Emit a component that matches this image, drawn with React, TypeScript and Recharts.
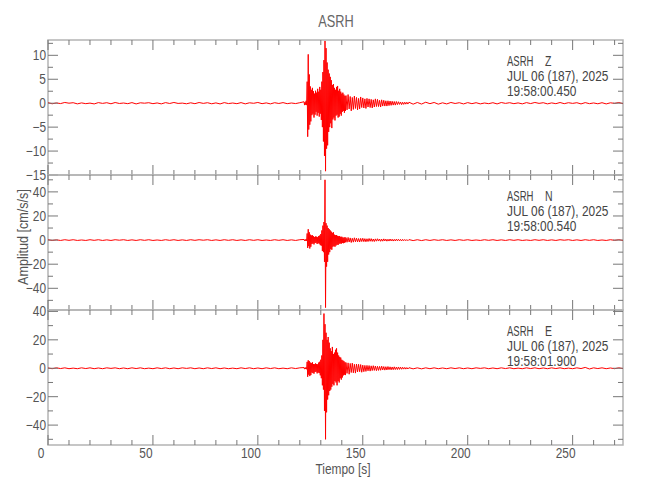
import { LineChart, Line, XAxis, YAxis, ReferenceArea } from "recharts";

// sample start (s) and step (s) of each stretch of the records
const segStart = [0, 122, 142, 172];
const segStep = [2, 0.25, 0.5, 2];

// ASRH Z
const zPre = [
  0.1, -0.12, 0.05, -0.08, 0.15, 0.0, 0.1, -0.14, 0.06, -0.1,
  0.02, -0.15, 0.12, -0.04, 0.1, -0.12, 0.14, -0.06, 0.04, -0.1,
  0.12, -0.15, 0.08, 0.0, 0.1, -0.1, 0.05, -0.14, 0.12, -0.06,
  0.15, -0.05, 0.02, -0.12, 0.08, -0.1, 0.14, -0.04, 0.1, -0.12,
  0.06, -0.15, 0.12, -0.08, 0.04, -0.1, 0.12, -0.14, 0.08, -0.02,
  0.15, -0.1, 0.06, -0.14, 0.1, -0.06, 0.12, -0.1, 0.04, -0.08,
  0.1,
];
const zBurst = [
  0.3, -0.4, 0.2, -0.3, 0.5, -0.4, 4.5, -7.0, 10.2, -5.5,
  6.0, -4.5, 3.5, -3.8, 2.8, -2.5, 3.2, -2.2, 2.5, -3.0,
  2.0, -2.4, 2.6, -1.8, 2.2, -2.6, 3.0, -2.0, 2.4, -2.8,
  3.4, -2.2, 2.8, -3.5, 4.5, -5.0, 6.5, -8.0, 9.0, -11.0,
  13.0, -14.2, 11.5, -9.5, 8.5, -8.8, 7.0, -6.0, 6.2, -5.0,
  5.5, -4.2, 4.8, -5.2, 3.8, -3.4, 4.0, -3.0, 3.2, -3.6,
  2.8, -2.6, 3.4, -2.4, 3.6, -3.0, 2.6, -2.8, 3.0, -2.2,
  2.4, -2.6, 2.0, -1.8, 2.2, -1.6, 1.8, -2.0, 1.5, -1.6,
];
const zCoda = [
  1.6, -1.4, 1.8, -1.2, 1.4, -1.6, 1.2, -1.3, 1.5, -1.1,
  1.2, -1.4, 1.0, -1.2, 1.3, -0.9, 1.1, -1.0, 0.9, -1.1,
  1.0, -0.8, 0.9, -0.9, 0.8, -1.0, 0.7, -0.8, 0.9, -0.7,
  0.8, -0.7, 0.6, -0.8, 0.7, -0.6, 0.6, -0.6, 0.5, -0.6,
  0.5, -0.5, 0.45, -0.45, 0.4, -0.4, 0.35, -0.4, 0.35, -0.3,
  0.3, -0.25, 0.25, -0.3, 0.2, -0.25, 0.2, -0.2, 0.2, -0.18,
];
const zTail = [
  0.2, -0.2, 0.15, -0.18, 0.2, -0.1, 0.15, -0.2, 0.08, -0.15,
  0.15, -0.06, 0.1, -0.15, 0.12, -0.1, 0.1, -0.14, 0.04, -0.1,
  0.1, -0.15, 0.14, -0.04, 0.1, -0.1, 0.06, -0.14, 0.12, -0.08,
  0.15, -0.04, 0.1, -0.14, 0.06, -0.1, 0.14, -0.1, 0.1, -0.04,
  0.1, -0.15, 0.12, -0.1, 0.05, -0.12, 0.1, -0.15, 0.08, -0.04,
  0.14, -0.1,
];

// ASRH N
const nPre = [
  0.3, -0.3, 0.2, -0.3, 0.3, -0.2, 0.3, -0.3, 0.1, -0.3,
  0.3, -0.2, 0.3, -0.3, 0.2, -0.3, 0.3, -0.1, 0.3, -0.3,
  0.2, -0.3, 0.3, -0.2, 0.3, -0.3, 0.1, -0.3, 0.3, -0.2,
  0.3, -0.3, 0.2, -0.3, 0.3, -0.2, 0.3, -0.1, 0.3, -0.3,
  0.2, -0.3, 0.3, -0.2, 0.3, -0.3, 0.2, -0.3, 0.3, -0.2,
  0.3, -0.3, 0.1, -0.3, 0.3, -0.2, 0.3, -0.3, 0.2, -0.3,
  0.3,
];
const nBurst = [
  0.5, -0.6, 0.4, -0.5, 0.7, -0.6, 5.5, -6.5, 9.0, -5.0,
  6.5, -7.0, 4.5, -5.5, 3.8, -3.2, 4.0, -2.8, 3.2, -3.6,
  2.6, -2.4, 3.0, -2.2, 2.8, -3.2, 2.4, -2.6, 3.4, -3.0,
  3.8, -4.2, 5.0, -4.6, 8.0, -9.0, 12.0, -10.0, 15.0, -18.0,
  50.0, -56.0, 14.0, -22.0, 12.0, -18.0, 10.0, -12.0, 9.0, -10.0,
  8.0, -7.5, 7.0, -8.0, 6.0, -5.5, 6.5, -5.0, 4.5, -5.5,
  4.0, -4.5, 4.2, -3.8, 3.5, -4.0, 3.2, -3.0, 3.4, -2.8,
  2.6, -3.0, 2.8, -2.4, 2.2, -2.6, 2.0, -2.2, 2.4, -1.8,
];
const nCoda = [
  2.0, -1.8, 2.2, -1.6, 1.8, -2.0, 1.5, -1.7, 1.9, -1.4,
  1.6, -1.5, 1.3, -1.6, 1.4, -1.2, 1.5, -1.3, 1.2, -1.4,
  1.1, -1.2, 1.3, -1.0, 1.2, -1.1, 0.9, -1.2, 1.0, -0.9,
  1.1, -0.8, 0.9, -1.0, 0.8, -0.9, 1.0, -0.7, 0.8, -0.9,
  0.7, -0.8, 0.9, -0.7, 0.7, -0.8, 0.6, -0.7, 0.8, -0.6,
  0.7, -0.6, 0.6, -0.7, 0.6, -0.5, 0.5, -0.5, 0.4, -0.5,
];
const nTail = [
  0.4, -0.4, 0.3, -0.4, 0.3, -0.3, 0.3, -0.2, 0.3, -0.3,
  0.2, -0.3, 0.3, -0.2, 0.3, -0.3, 0.1, -0.3, 0.3, -0.2,
  0.3, -0.3, 0.2, -0.3, 0.3, -0.2, 0.3, -0.3, 0.1, -0.3,
  0.3, -0.2, 0.3, -0.3, 0.2, -0.3, 0.3, -0.1, 0.3, -0.3,
  0.2, -0.3, 0.3, -0.2, 0.3, -0.3, 0.1, -0.3, 0.3, -0.2,
  0.3, -0.3,
];

// ASRH E
const ePre = [
  0.2, -0.3, 0.3, -0.2, 0.3, -0.3, 0.1, -0.3, 0.3, -0.2,
  0.3, -0.3, 0.2, -0.3, 0.3, -0.1, 0.3, -0.3, 0.2, -0.3,
  0.3, -0.2, 0.3, -0.3, 0.1, -0.3, 0.3, -0.2, 0.3, -0.3,
  0.2, -0.3, 0.3, -0.1, 0.3, -0.3, 0.2, -0.3, 0.3, -0.2,
  0.3, -0.3, 0.2, -0.3, 0.1, -0.3, 0.3, -0.2, 0.3, -0.3,
  0.2, -0.3, 0.3, -0.2, 0.3, -0.3, 0.1, -0.3, 0.3, -0.2,
  0.3,
];
const eBurst = [
  0.5, -0.6, 0.4, -0.5, 0.6, -0.7, 4.5, -6.0, 5.6, -4.5,
  5.0, -5.5, 4.0, -4.8, 3.6, -3.0, 4.2, -3.4, 3.0, -3.8,
  2.8, -2.6, 3.4, -2.4, 3.0, -3.6, 2.8, -3.0, 4.0, -3.4,
  4.6, -5.0, 6.0, -7.0, 9.0, -12.0, 20.0, -15.0, 38.5, -30.0,
  31.0, -50.0, 25.0, -31.0, 20.0, -22.0, 22.0, -19.0, 18.0, -16.0,
  14.0, -15.0, 12.0, -13.0, 15.0, -11.0, 10.0, -12.0, 11.0, -9.0,
  13.0, -10.0, 14.0, -12.0, 11.0, -9.0, 9.0, -10.0, 8.0, -7.0,
  7.5, -8.0, 6.0, -6.5, 5.5, -5.0, 5.0, -4.5, 4.2, -4.8,
];
const eCoda = [
  4.0, -3.6, 3.8, -4.2, 3.4, -3.0, 3.6, -3.2, 2.8, -3.4,
  3.0, -2.6, 2.8, -2.4, 2.6, -2.8, 2.2, -2.4, 2.0, -2.2,
  2.0, -1.8, 1.9, -2.0, 1.7, -1.6, 1.8, -1.5, 1.6, -1.7,
  1.4, -1.5, 1.3, -1.4, 1.5, -1.2, 1.2, -1.3, 1.1, -1.2,
  1.2, -1.0, 1.0, -1.1, 0.9, -1.0, 1.0, -0.9, 0.8, -0.9,
  0.9, -0.8, 0.8, -0.7, 0.7, -0.6, 0.6, -0.6, 0.5, -0.5,
];
const eTail = [
  0.4, -0.4, 0.3, -0.4, 0.3, -0.3, 0.3, -0.3, 0.2, -0.3,
  0.3, -0.2, 0.3, -0.3, 0.2, -0.3, 0.3, -0.1, 0.3, -0.3,
  0.2, -0.3, 0.3, -0.2, 0.3, -0.3, 0.1, -0.3, 0.3, -0.2,
  0.3, -0.3, 0.2, -0.3, 0.3, -0.2, 0.3, -0.3, 0.1, -0.3,
  0.3, -0.2, 0.6, -0.5, 0.3, -0.2, 0.3, -0.3, 0.2, -0.3,
  0.3, -0.2,
];

const xTicks = [
  0, 10, 20, 30, 40, 50, 60, 70, 80, 90, 100, 110, 120, 130, 140, 150, 160,
  170, 180, 190, 200, 210, 220, 230, 240, 250, 260, 270,
];
const zTicks = [-15, -12.5, -10, -7.5, -5, -2.5, 0, 2.5, 5, 7.5, 10, 12.5];
const nTicks = [-50, -40, -30, -20, -10, 0, 10, 20, 30, 40, 50];
const eTicks = [-50, -40, -30, -20, -10, 0, 10, 20, 30, 40];

const X_MAX = 274;
const FONT = "'Liberation Sans', Arial, sans-serif";
const PLOT_L = 48;
const PLOT_R = 623;
const TOP = 10;
const PANEL_H = 135;
const FRAME = "#b4b4b4";
const TICK = "#777";
const LABEL = "#555";

const rows: { t: number; z: number; n: number; e: number }[] = [];
[
  [zPre, nPre, ePre],
  [zBurst, nBurst, eBurst],
  [zCoda, nCoda, eCoda],
  [zTail, nTail, eTail],
].forEach(([z, n, e], s) => {
  z.forEach((v, i) => {
    rows.push({ t: segStart[s] + i * segStep[s], z: v, n: n[i], e: e[i] });
  });
});

const fmt = (v: number) => (v < 0 ? "\u2212" + Math.abs(v) : String(v));

// narrow text: the original uses a condensed plotter font
function NText({ x, y, anchor = "start", size = 14, fill = LABEL, squeeze = 0.85, rotate = 0, children }: any) {
  return (
    <g transform={`translate(${x},${y}) rotate(${rotate}) scale(${squeeze},1)`}>
      <text x={0} y={0} textAnchor={anchor} fontSize={size} fill={fill} fontFamily={FONT}>
        {children}
      </text>
    </g>
  );
}

function yTick(labelEvery: number) {
  return (props: any) => {
    const { y, payload } = props;
    const v = payload.value;
    const major = Math.abs(v % labelEvery) < 1e-6;
    const len = major ? 10 : 5;
    return (
      <g>
        <line x1={PLOT_L} x2={PLOT_L + len} y1={y} y2={y} stroke={TICK} />
        <line x1={PLOT_R} x2={PLOT_R - len} y1={y} y2={y} stroke={TICK} />
        {major && (
          <NText x={PLOT_L - 2} y={y + 5} anchor="end">
            {fmt(v)}
          </NText>
        )}
      </g>
    );
  };
}

function xTick(showLabels: boolean) {
  return (props: any) => {
    const { x, payload } = props;
    const v = payload.value;
    const major = v % 50 === 0;
    const len = major ? 10 : 5;
    const bottom = TOP + PANEL_H;
    return (
      <g>
        <line x1={x} x2={x} y1={TOP} y2={TOP + len} stroke={TICK} />
        <line x1={x} x2={x} y1={bottom} y2={bottom - len} stroke={TICK} />
        {showLabels && major && (
          <NText x={x - 7} y={bottom + 13} anchor="middle">
            {v}
          </NText>
        )}
      </g>
    );
  };
}

const panels = [
  { key: "z", top: 40, domain: [-15, 13.2], ticks: zTicks, every: 5, comp: "Z", time: "19:58:00.450" },
  { key: "n", top: 175, domain: [-58, 54], ticks: nTicks, every: 20, comp: "N", time: "19:58:00.540" },
  { key: "e", top: 310, domain: [-54, 41], ticks: eTicks, every: 20, comp: "E", time: "19:58:01.900" },
];

export default function App() {
  return (
    <div style={{ position: "absolute", left: 0, top: 0, width: 650, height: 500, background: "#fff" }}>
      {panels.map((p, idx) => {
        const last = idx === panels.length - 1;
        const bottom = last ? 35 : 10;
        return (
          <div key={p.key} style={{ position: "absolute", left: 0, top: p.top - TOP }}>
            <LineChart
              width={650}
              height={TOP + PANEL_H + bottom}
              data={rows}
              margin={{ top: TOP, right: 650 - PLOT_R, bottom: bottom - 1, left: 0 }}
            >
              <XAxis
                dataKey="t"
                type="number"
                domain={[0, X_MAX]}
                ticks={xTicks}
                interval={0}
                height={1}
                axisLine={false}
                tickLine={false}
                tick={xTick(last)}
                allowDataOverflow
              />
              <YAxis
                type="number"
                domain={p.domain}
                ticks={p.ticks}
                interval={0}
                width={PLOT_L}
                axisLine={false}
                tickLine={false}
                tick={yTick(p.every)}
                allowDataOverflow
              />
              <ReferenceArea
                x1={0}
                x2={X_MAX}
                y1={p.domain[0]}
                y2={p.domain[1]}
                fill="none"
                stroke={FRAME}
                strokeWidth={1.5}
              />
              <Line
                dataKey={p.key}
                type="linear"
                stroke="#ff0000"
                strokeWidth={1}
                dot={false}
                isAnimationActive={false}
              />
            </LineChart>
          </div>
        );
      })}
      <svg width={650} height={500} style={{ position: "absolute", left: 0, top: 0, pointerEvents: "none" }}>
        <NText x={336} y={27} anchor="middle" size={17} fill="#666" squeeze={0.75}>
          ASRH
        </NText>
        <NText x={28} y={237} anchor="middle" rotate={-90} squeeze={0.9}>
          Amplitud [cm/s/s]
        </NText>
        <NText x={343} y={474} anchor="middle">
          Tiempo [s]
        </NText>
        {panels.map((p) => (
          <g key={p.key}>
            <NText x={507} y={p.top + 26} fill="#444" squeeze={0.68}>ASRH</NText>
            <NText x={545} y={p.top + 26} fill="#444" squeeze={0.75}>{p.comp}</NText>
            <NText x={507} y={p.top + 41} fill="#444">JUL 06 (187), 2025</NText>
            <NText x={507} y={p.top + 56} fill="#444">{p.time}</NText>
          </g>
        ))}
      </svg>
    </div>
  );
}
